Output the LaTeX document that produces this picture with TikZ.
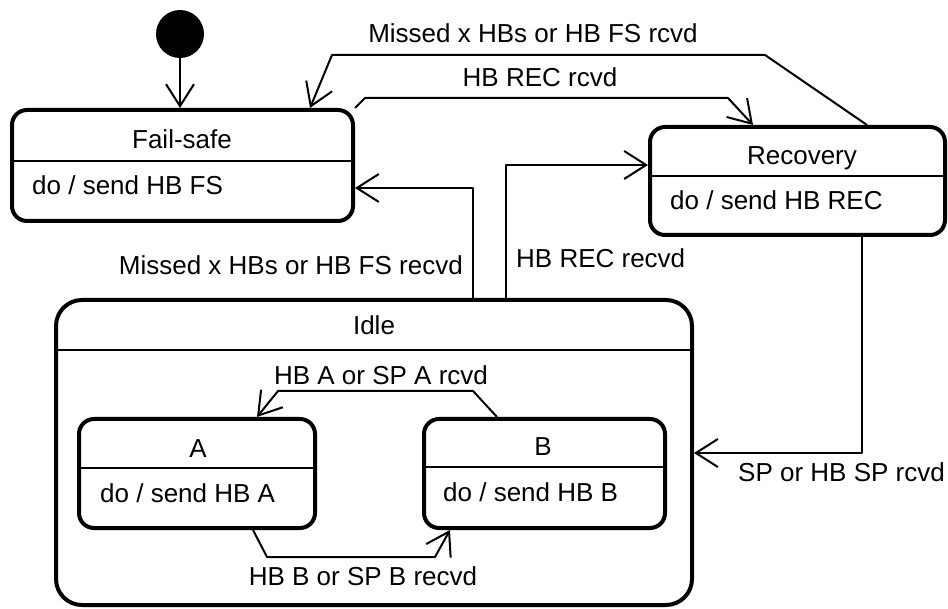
\documentclass[tikz,border=0pt]{standalone}
\usepackage{fontspec}
\setmainfont{Liberation Sans}
\usetikzlibrary{arrows.meta}

\tikzset{
  statebox/.style={draw, line width=4pt, rounded corners=15pt, inner sep=0pt},
  divider/.style={line width=2pt},
  trans/.style={line width=2pt, line join=round, -{Straight Barb[length=22pt,width=28pt]}},
  txt/.style={inner sep=0pt, font=\fontsize{26}{31}\selectfont},
}

\begin{document}
\begin{tikzpicture}[x=1pt, y=-1pt]
  \useasboundingbox (0,0) rectangle (948,609);

  % initial pseudo-state
  \node[circle, fill=black, minimum size=48pt, inner sep=0pt] (init) at (180,34) {};

  % states
  \node[statebox, minimum width=341pt, minimum height=111pt] (fs) at (182.5,165.5) {};
  \node[statebox, minimum width=295pt, minimum height=108pt] (rec) at (797.5,181) {};
  \node[statebox, rounded corners=26pt, minimum width=636pt, minimum height=305pt] (idle) at (374,452.5) {};
  \node[statebox, minimum width=236pt, minimum height=109pt] (a) at (197,473.5) {};
  \node[statebox, minimum width=241pt, minimum height=109pt] (b) at (544.5,473.5) {};

  % compartment dividers
  \draw[divider] (fs.west |- 0,161) -- (fs.east |- 0,161);
  \draw[divider] (rec.west |- 0,176) -- (rec.east |- 0,176);
  \draw[divider] (idle.west |- 0,350) -- (idle.east |- 0,350);
  \draw[divider] (a.west |- 0,468) -- (a.east |- 0,468);
  \draw[divider] (b.west |- 0,467) -- (b.east |- 0,467);

  % state names and activities
  \node[txt, anchor=base] (fsname) at (182,149) {Fail-safe};
  \node[txt, anchor=base west] (fsdo) at (32,195) {do / send HB FS};
  \node[txt, anchor=base] (recname) at (802,165) {Recovery};
  \node[txt, anchor=base west] (recdo) at (670,210) {do / send HB REC};
  \node[txt, anchor=base] (idlename) at (374,335) {Idle};
  \node[txt, anchor=base] (aname) at (198,457) {A};
  \node[txt, anchor=base west] (ado) at (100,502) {do / send HB A};
  \node[txt, anchor=base] (bname) at (543,456) {B};
  \node[txt, anchor=base west] (bdo) at (443,501) {do / send HB B};

  % transitions
  \draw[trans] (init.south) -- (init.south |- fs.north);
  \draw[trans] (867,0 |- rec.north) -- (765,55) -- (332,55) -- (310,0 |- fs.north);
  \draw[trans] (fs.north east) -- (365,98) -- (728,98) -- (753,0 |- rec.north);
  \draw[trans] (473,0 |- idle.north) -- (473,188) -- (fs.east |- 0,188);
  \draw[trans] (506,0 |- idle.north) -- (506,165) -- (rec.west |- 0,165);
  \draw[trans] (862,0 |- rec.south) -- (862,453) -- (idle.east |- 0,453);
  \draw[trans] (497,0 |- b.north) -- (473,391) -- (278,391) -- (257,0 |- a.north);
  \draw[trans] (253,0 |- a.south) -- (267,557) -- (435,557) -- (450,0 |- b.south);

  % transition labels
  \node[txt, anchor=base] (l1) at (533,43) {Missed x HBs or HB FS rcvd};
  \node[txt, anchor=base] (l2) at (540,87) {HB REC rcvd};
  \node[txt, anchor=base east] (l3) at (463,275) {Missed x HBs or HB FS recvd};
  \node[txt, anchor=base west] (l4) at (516,268) {HB REC recvd};
  \node[txt, anchor=base west] (l5) at (738,481) {SP or HB SP rcvd};
  \node[txt, anchor=base] (l6) at (381,385) {HB A or SP A rcvd};
  \node[txt, anchor=base] (l7) at (363,585) {HB B or SP B recvd};
\end{tikzpicture}
\end{document}
